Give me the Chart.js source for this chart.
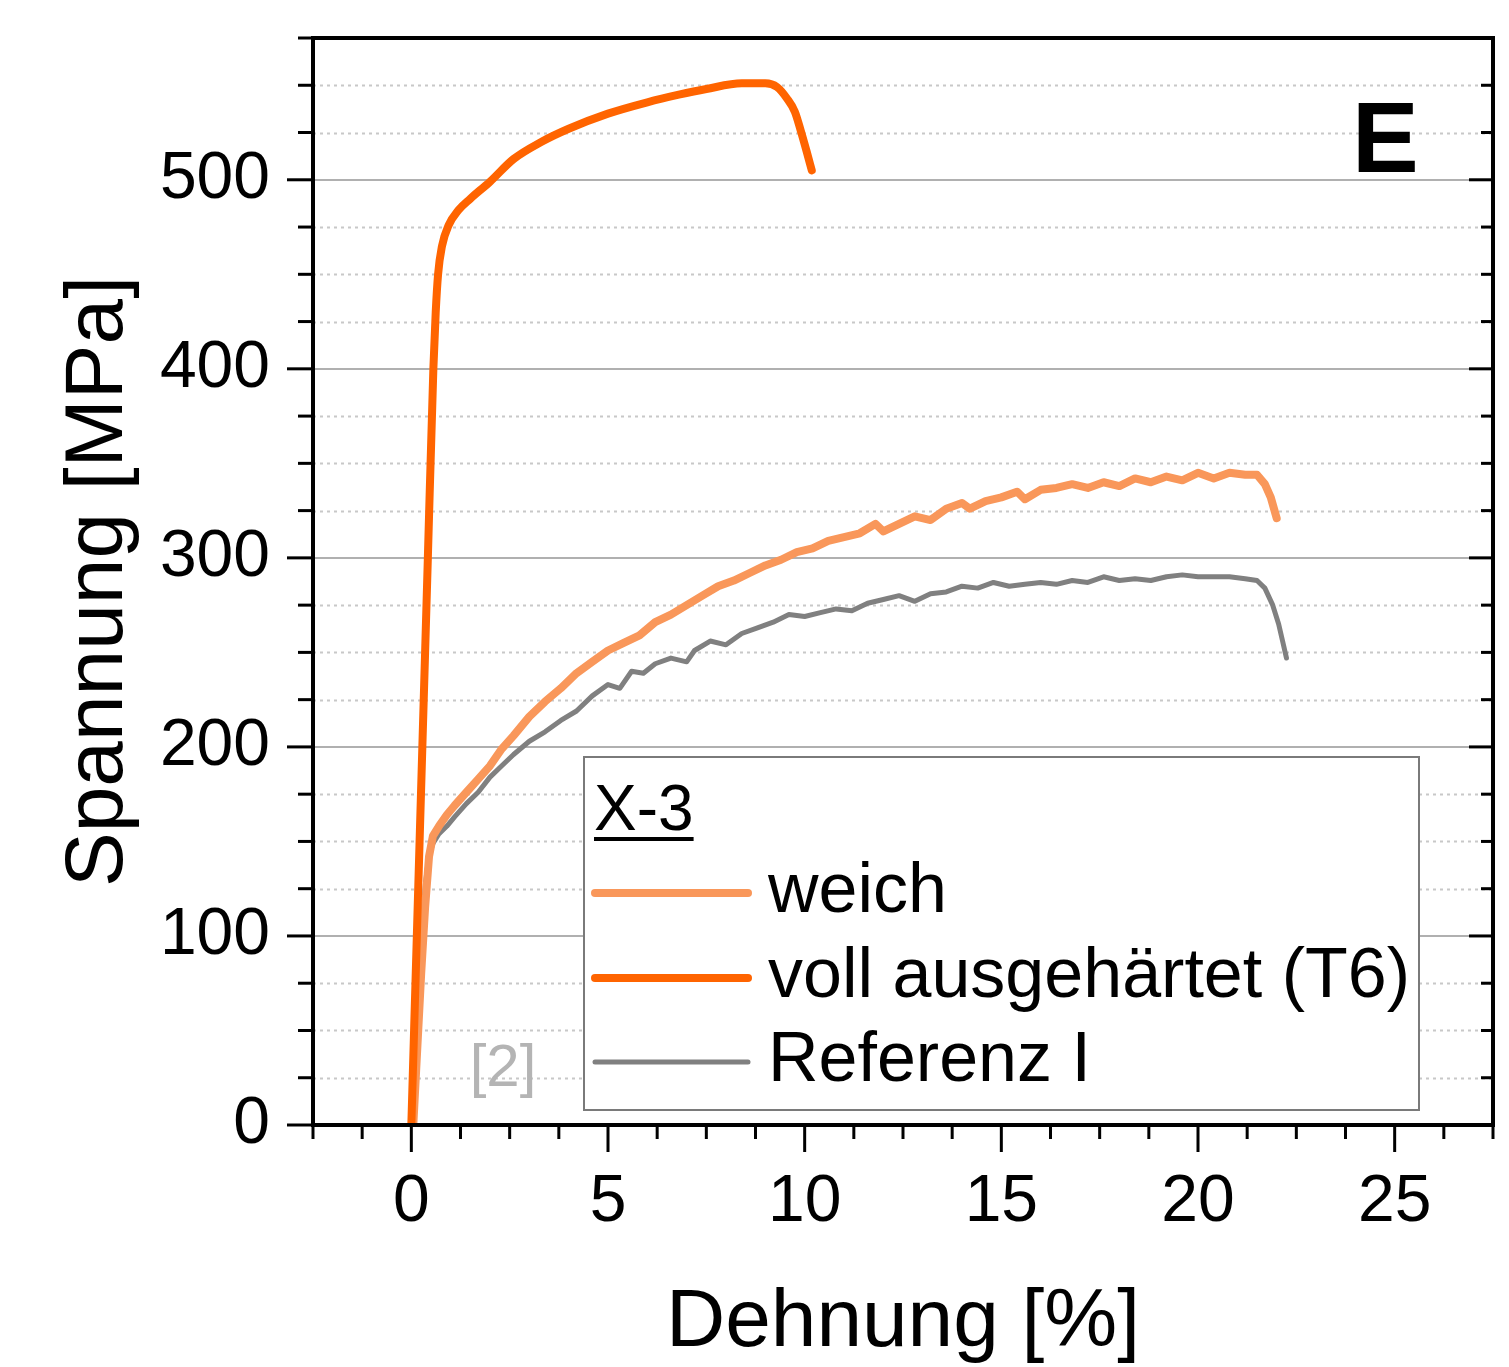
<!DOCTYPE html>
<html>
<head>
<meta charset="utf-8">
<script src="https://cdn.jsdelivr.net/npm/chart.js@4/dist/chart.umd.min.js"></script>
<style>
html,body{margin:0;padding:0;background:#fff;}
#wrap{width:1509px;height:1367px;position:relative;}
</style>
</head>
<body>
<div id="wrap"><canvas id="c" width="1509" height="1367"></canvas></div>
<script>
// ---- data ----
const seriesNames = ["voll ausgehärtet (T6)", "weich", "Referenz I"];
const legendTitle = "X-3";
const sourceNote = "[2]";
const panelLetter = "E";
const xTitle = "Dehnung [%]";
const yTitle = "Spannung [MPa]";
const xTickValues = [0, 5, 10, 15, 20, 25];
const yTickValues = [0, 100, 200, 300, 400, 500];

const t6X = [0, 0.14, 0.28, 0.42, 0.56, 0.62, 0.68, 0.78, 0.95, 1.2, 1.5, 2.0, 2.6, 3.3, 4.0, 5.0, 6.0, 6.8, 7.5, 8.4, 9.0, 9.3, 9.55, 9.75, 9.9, 10.05, 10.18];
const t6Y = [0, 100, 200, 300, 400, 430, 450, 465, 476, 484, 490, 499, 511, 520, 527, 535, 541, 545, 548, 551, 551, 549, 543, 536, 526, 515, 505];

const weichX = [0.05, 0.15, 0.25, 0.35, 0.45, 0.55, 0.7, 0.9, 1.1, 1.4, 1.7, 2.0, 2.3, 2.6, 3.0, 3.4, 3.8, 4.2, 4.6, 5.0, 5.4, 5.8, 6.2, 6.6, 7.0, 7.4, 7.8, 8.2, 8.6, 9.0, 9.4, 9.8, 10.2, 10.6, 11.0, 11.4, 11.8, 12.0, 12.4, 12.8, 13.2, 13.6, 14.0, 14.2, 14.6, 15.0, 15.4, 15.6, 16.0, 16.4, 16.8, 17.2, 17.6, 18.0, 18.4, 18.8, 19.2, 19.6, 20.0, 20.4, 20.8, 21.2, 21.5, 21.7, 21.85, 22.0];
const weichY = [0, 40, 80, 115, 142, 153, 158, 164, 169, 176, 183, 190, 199, 206, 216, 224, 231, 239, 245, 251, 255, 259, 266, 270, 275, 280, 285, 288, 292, 296, 299, 303, 305, 309, 311, 313, 318, 314, 318, 322, 320, 326, 329, 326, 330, 332, 335, 331, 336, 337, 339, 337, 340, 338, 342, 340, 343, 341, 345, 342, 345, 344, 344, 339, 332, 321];

const refX = [0.05, 0.12, 0.2, 0.28, 0.36, 0.45, 0.55, 0.7, 0.9, 1.1, 1.4, 1.7, 2.0, 2.3, 2.6, 3.0, 3.4, 3.8, 4.2, 4.6, 5.0, 5.3, 5.6, 5.9, 6.2, 6.6, 7.0, 7.2, 7.6, 8.0, 8.4, 8.8, 9.2, 9.6, 10.0, 10.4, 10.8, 11.2, 11.6, 12.0, 12.4, 12.8, 13.2, 13.6, 14.0, 14.4, 14.8, 15.2, 15.6, 16.0, 16.4, 16.8, 17.2, 17.6, 18.0, 18.4, 18.8, 19.2, 19.6, 20.0, 20.4, 20.8, 21.2, 21.5, 21.7, 21.9, 22.05, 22.15, 22.25];
const refY = [0, 30, 75, 105, 128, 143, 149, 154, 158, 163, 170, 176, 184, 190, 196, 203, 208, 214, 219, 227, 233, 231, 240, 239, 244, 247, 245, 251, 256, 254, 260, 263, 266, 270, 269, 271, 273, 272, 276, 278, 280, 277, 281, 282, 285, 284, 287, 285, 286, 287, 286, 288, 287, 290, 288, 289, 288, 290, 291, 290, 290, 290, 289, 288, 284, 275, 265, 256, 247];

// ---- styles ----
const colT6 = "#ff6400";
const colWeich = "#f9975a";
const colRef = "#808080";
const FONT = "'Liberation Sans', Arial, Helvetica, sans-serif";

const pts = (xs, ys) => xs.map((v, i) => ({x: v, y: ys[i]}));

const decorPlugin = {
  id: 'decor',
  beforeDatasetsDraw(chart) {
    const {ctx, chartArea: a, scales: {x, y}} = chart;
    ctx.save();
    // minor dotted grid
    ctx.strokeStyle = '#c8c8c8';
    ctx.lineWidth = 2;
    ctx.setLineDash([3, 4]);
    for (let v = 25; v < y.max; v += 25) {
      if (v % 100 === 0) continue;
      const py = Math.round(y.getPixelForValue(v)) + 0.5;
      ctx.beginPath(); ctx.moveTo(a.left, py); ctx.lineTo(a.right, py); ctx.stroke();
    }
    ctx.setLineDash([]);
    ctx.strokeStyle = '#b0b0b0';
    ctx.lineWidth = 2;
    yTickValues.forEach(v => {
      if (v === 0) return;
      const py = Math.round(y.getPixelForValue(v));
      ctx.beginPath(); ctx.moveTo(a.left, py); ctx.lineTo(a.right, py); ctx.stroke();
    });
    ctx.restore();
  },
  afterDraw(chart) {
    const {ctx, chartArea: a, scales: {x, y}} = chart;
    ctx.save();
    // frame
    ctx.strokeStyle = '#000';
    ctx.lineWidth = 4;
    ctx.strokeRect(a.left, a.top, a.right - a.left, a.bottom - a.top);
    // ticks
    ctx.lineWidth = 3;
    for (let v = 0; v <= y.max + 0.001; v += 25) {
      const py = y.getPixelForValue(v);
      const major = v % 100 === 0;
      ctx.beginPath(); ctx.moveTo(a.left, py); ctx.lineTo(a.left - (major ? 26 : 15), py); ctx.stroke();
      ctx.beginPath(); ctx.moveTo(a.right, py); ctx.lineTo(a.right - (major ? 24 : 12), py); ctx.stroke();
    }
    for (let v = x.min; v <= x.max + 0.001; v += 1.25) {
      const px = x.getPixelForValue(v);
      const major = Math.abs(v % 5) < 0.001;
      ctx.beginPath(); ctx.moveTo(px, a.bottom); ctx.lineTo(px, a.bottom + (major ? 27 : 14)); ctx.stroke();
    }
    // panel letter
    ctx.fillStyle = '#000';
    ctx.font = "bold 100px " + FONT;
    ctx.textAlign = 'left';
    ctx.textBaseline = 'alphabetic';
    ctx.fillText(panelLetter, 1352, 172);
    // source note
    ctx.fillStyle = '#b4b4b4';
    ctx.font = "60px " + FONT;
    ctx.textAlign = 'center';
    ctx.fillText(sourceNote, 503, 1086);
    // legend box
    const L = {x: 584, y: 757, w: 835, h: 353};
    ctx.fillStyle = '#fff';
    ctx.fillRect(L.x, L.y, L.w, L.h);
    ctx.strokeStyle = '#7a7a7a';
    ctx.lineWidth = 2;
    ctx.strokeRect(L.x, L.y, L.w, L.h);
    ctx.fillStyle = '#000';
    ctx.font = "64px " + FONT;
    ctx.textAlign = 'left';
    ctx.textBaseline = 'alphabetic';
    ctx.fillText(legendTitle, 594, 830);
    const tw = ctx.measureText(legendTitle).width;
    ctx.fillRect(594, 837, tw, 4);
    const ds = chart.data.datasets;
    const order = [1, 0, 2];
    const rowsY = [893, 978, 1062];
    ctx.font = "70px " + FONT;
    ctx.textBaseline = 'middle';
    order.forEach((di, r) => {
      const d = ds[di];
      ctx.strokeStyle = d.borderColor;
      ctx.lineWidth = d.borderWidth;
      ctx.lineCap = 'round';
      ctx.beginPath(); ctx.moveTo(595, rowsY[r]); ctx.lineTo(748, rowsY[r]); ctx.stroke();
      ctx.fillStyle = '#000';
      ctx.fillText(d.label, 768, rowsY[r]);
    });
    ctx.restore();
  }
};

new Chart(document.getElementById('c'), {
  type: 'scatter',
  data: {
    datasets: [
      {label: seriesNames[0], data: pts(t6X, t6Y), showLine: true, borderColor: colT6, backgroundColor: colT6, borderWidth: 8, pointRadius: 0, cubicInterpolationMode: 'monotone', borderJoinStyle: 'round', borderCapStyle: 'round'},
      {label: seriesNames[1], data: pts(weichX, weichY), showLine: true, borderColor: colWeich, backgroundColor: colWeich, borderWidth: 8, pointRadius: 0, tension: 0, borderJoinStyle: 'round', borderCapStyle: 'round'},
      {label: seriesNames[2], data: pts(refX, refY), showLine: true, borderColor: colRef, backgroundColor: colRef, borderWidth: 5, pointRadius: 0, tension: 0, borderJoinStyle: 'round', borderCapStyle: 'round'}
    ]
  },
  options: {
    responsive: false,
    animation: false,
    devicePixelRatio: 1,
    layout: {padding: {top: 38, right: 16, left: 0, bottom: 0}},
    plugins: {legend: {display: false}, tooltip: {enabled: false}},
    scales: {
      x: {
        type: 'linear', min: -2.5, max: 27.5,
        afterBuildTicks: s => { s.ticks = xTickValues.map(v => ({value: v})); },
        afterFit: s => { s.height = 242; s.paddingLeft = 0; s.paddingRight = 0; },
        grid: {display: false, drawTicks: false},
        border: {display: false},
        ticks: {font: {family: FONT, size: 66}, color: '#000', padding: 38, maxRotation: 0, autoSkip: false},
        title: {display: true, text: xTitle, font: {family: FONT, size: 82, lineHeight: 1}, color: '#000', padding: {top: 0, bottom: 3}}
      },
      y: {
        type: 'linear', min: 0, max: 575,
        afterBuildTicks: s => { s.ticks = yTickValues.map(v => ({value: v})); },
        afterFit: s => { s.width = 313; s.paddingTop = 0; s.paddingBottom = 0; },
        grid: {display: false, drawTicks: false},
        border: {display: false},
        ticks: {font: {family: FONT, size: 66}, color: '#000', padding: 43, autoSkip: false},
        title: {display: true, text: yTitle, font: {family: FONT, size: 82, lineHeight: 1.2}, color: '#000', padding: {top: 50, bottom: 0}}
      }
    }
  },
  plugins: [decorPlugin]
});
</script>
</body>
</html>
